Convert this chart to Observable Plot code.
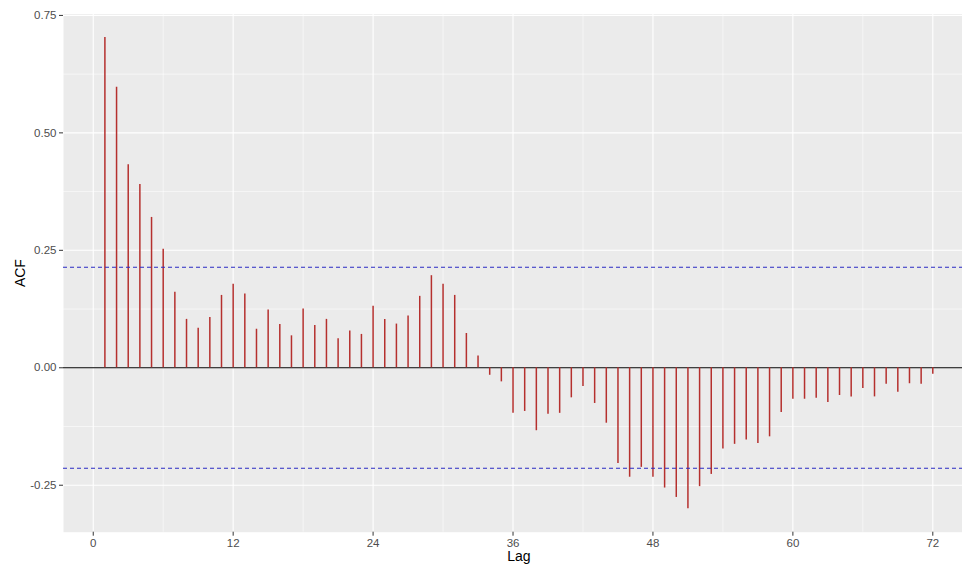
<!DOCTYPE html>
<html>
<head>
<meta charset="utf-8">
<script src="https://cdn.jsdelivr.net/npm/d3@7"></script>
<script src="https://cdn.jsdelivr.net/npm/@observablehq/plot@0.6"></script>
<style>
  html, body { margin: 0; padding: 0; background: #ffffff; }
  #chart { width: 962px; height: 570px; overflow: hidden; }
</style>
</head>
<body>
<div id="chart"></div>
<script>
const lags = [1,2,3,4,5,6,7,8,9,10,11,12,13,14,15,16,17,18,19,20,21,22,23,24,25,26,27,28,29,30,31,32,33,34,35,36,
  37,38,39,40,41,42,43,44,45,46,47,48,49,50,51,52,53,54,55,56,57,58,59,60,61,62,63,64,65,66,67,68,69,70,71,72];
const acf = [0.703,0.597,0.432,0.390,0.320,0.252,0.161,0.103,0.084,0.107,0.154,0.178,
  0.157,0.082,0.123,0.092,0.068,0.125,0.090,0.103,0.062,0.078,0.071,0.131,
  0.103,0.093,0.110,0.152,0.196,0.178,0.154,0.073,0.025,-0.016,-0.030,-0.097,
  -0.093,-0.134,-0.099,-0.097,-0.064,-0.040,-0.076,-0.118,-0.204,-0.233,-0.212,-0.233,
  -0.256,-0.276,-0.300,-0.253,-0.227,-0.173,-0.163,-0.154,-0.161,-0.147,-0.095,-0.067,
  -0.067,-0.065,-0.074,-0.059,-0.062,-0.044,-0.062,-0.035,-0.052,-0.034,-0.035,-0.014];
const ciBounds = [0.214, -0.214];
const xTicks = [0, 12, 24, 36, 48, 60, 72];
const xMinor = [6, 18, 30, 42, 54, 66];
const yTicks = [-0.25, 0, 0.25, 0.5, 0.75];
const yMinor = [-0.125, 0.125, 0.375, 0.625];
const xTitle = "Lag";
const yTitle = "ACF";

const data = lags.map((l, i) => ({lag: l, acf: acf[i]}));

const chart = Plot.plot({
  width: 962,
  height: 570,
  marginTop: 13.5,
  marginBottom: 38.3,
  marginLeft: 63,
  marginRight: -11.7,
  style: {fontFamily: "'Liberation Sans', Arial, sans-serif", background: "#ffffff"},
  x: {domain: [-2.55, 75.55]},
  y: {domain: [-0.350, 0.753]},
  marks: [
    Plot.frame({fill: "#EBEBEB", stroke: null}),
    Plot.ruleY(yMinor, {stroke: "#ffffff", strokeWidth: 0.55}),
    Plot.ruleX(xMinor, {stroke: "#ffffff", strokeWidth: 0.55}),
    Plot.ruleY(yTicks, {stroke: "#ffffff", strokeWidth: 1.1}),
    Plot.ruleX(xTicks, {stroke: "#ffffff", strokeWidth: 1.1}),
    Plot.ruleY([0], {stroke: "#000000", strokeWidth: 1.1}),
    Plot.ruleX(data, {x: "lag", y1: 0, y2: "acf", stroke: "#b5302e", strokeWidth: 1.5}),
    Plot.ruleY(ciBounds, {stroke: "#2b2bc4", strokeWidth: 1.1, strokeDasharray: "4,3"}),
    Plot.axisY(yTicks, {tickFormat: d => d.toFixed(2), tickSize: 4, tickPadding: 3,
      fontSize: 11.5, color: "#4D4D4D", stroke: "#333333", label: null}),
    Plot.axisX(xTicks, {tickFormat: d => String(d), tickSize: 4, tickPadding: 3,
      fontSize: 11.5, color: "#4D4D4D", stroke: "#333333", label: null}),
    Plot.text([yTitle], {frameAnchor: "left", rotate: -90, dx: -43, fontSize: 14, fill: "#000000", textAnchor: "middle"}),
    Plot.text([xTitle], {frameAnchor: "bottom", dy: 29, fontSize: 14, fill: "#000000", textAnchor: "middle"})
  ]
});
document.getElementById("chart").appendChild(chart);
</script>
</body>
</html>
